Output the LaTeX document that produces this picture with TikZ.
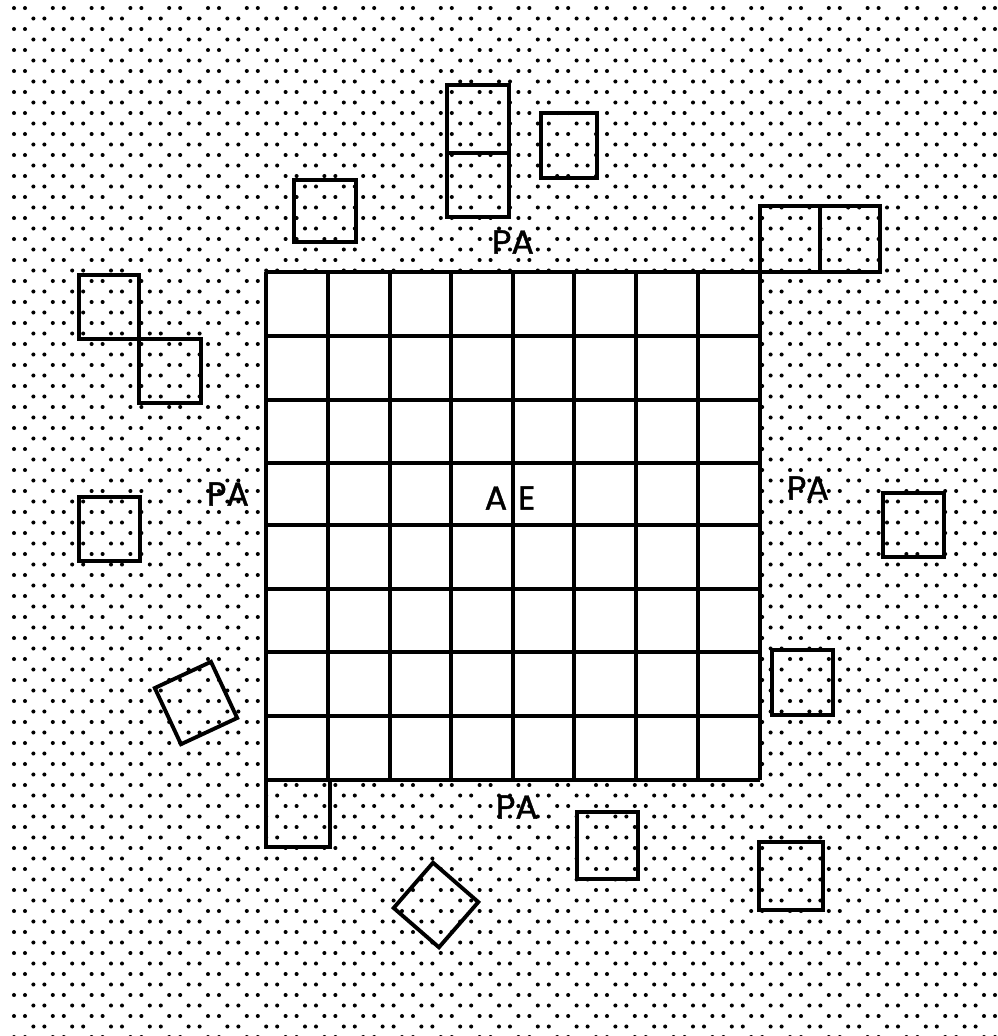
\documentclass[tikz,border=0pt]{standalone}
\usepackage{fontspec}
\newfontfamily\rotulo[FakeBold=1.2]{Poppins}
\begin{document}
\begin{tikzpicture}[
    x=0.02cm,
    y=-0.02cm,
    punto/.style={fill=black},
    reja/.style={line width=2.6pt},
    cuadro/.style={line width=2.2pt},
    marca/.style={font=\rotulo\fontsize{19}{19}\selectfont,inner sep=1pt}
]
    % Fondo punteado
    \useasboundingbox (0,0) rectangle (998,1036);
    \fill[white] (0,0) rectangle (998,1036);
    \foreach \r in {0,...,98}{
        \foreach \c in {0,...,26}{
            \pgfmathsetmacro{\px}{14+38.8*\c+19.4*mod(\r,2)}
            \pgfmathsetmacro{\py}{8+10.5*\r}
            \fill[punto] (\px,\py) circle (1.15pt) (\px+11,\py) circle (1.15pt);
        }
    }

    % Area central en reja de 8 x 8
    \fill[white] (266,272) rectangle (760,780);
    \foreach \x in {266,328,390,451,513,574,636,698,760}{
        \draw[reja] (\x,272) -- (\x,780);
    }
    \foreach \y in {272,336,400,463,525,589,652,716,780}{
        \draw[reja] (266,\y) -- (760,\y);
    }

    % Cuadros sueltos alrededor
    \draw[cuadro] (447,85) rectangle (509,153);
    \draw[cuadro] (447,153) rectangle (509,217);
    \draw[cuadro] (541,113) rectangle (597,178);
    \draw[cuadro] (294,180) rectangle (356,242);
    \draw[cuadro] (760,206) rectangle (820,272);
    \draw[cuadro] (820,206) rectangle (880,272);
    \draw[cuadro] (79,275) rectangle (139,339);
    \draw[cuadro] (139,339) rectangle (201,403);
    \draw[cuadro] (79,497) rectangle (140,561);
    \draw[cuadro,rotate around={25:(196,703)}] (165,672) rectangle (227,734);
    \draw[cuadro] (266,780) rectangle (330,847);
    \draw[cuadro,rotate around={49:(436,905)}] (406,875) rectangle (466,935);
    \draw[cuadro] (577,812) rectangle (638,879);
    \draw[cuadro] (759,842) rectangle (823,910);
    \draw[cuadro] (883,493) rectangle (944,557);
    \draw[cuadro] (772,650) rectangle (833,715);

    % Rotulos
    \node[marca] (paN) at (513,242) {PA};
    \node[marca] (paO) at (228,494) {PA};
    \node[marca] (paE) at (808,488) {PA};
    \node[marca] (paS) at (517,807) {PA};
    \node[marca] (ae) at (510,498) {A\hspace{0.22cm}E};
\end{tikzpicture}
\end{document}
